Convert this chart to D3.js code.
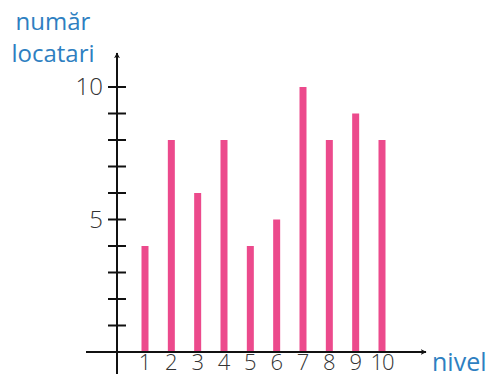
<!DOCTYPE html>
<html lang="ro">
<head>
  <meta charset="UTF-8">
  <title>Număr locatari pe nivel</title>
  <script src="https://d3js.org/d3.v7.min.js"></script>
  <style>
    body { margin: 0; background: #fff; }
    svg { display: block; }
    .lbl { font-family: "Open Sans", sans-serif; font-weight: 300; fill: #333; }
    .title { font-family: "Open Sans", sans-serif; fill: #2e7fc1; }
  </style>
</head>
<body>
  <div id="chart"></div>
  <script>
    // data
    const levels = [1, 2, 3, 4, 5, 6, 7, 8, 9, 10];
    const tenants = [4, 8, 6, 8, 4, 5, 10, 8, 9, 8];
    const yTicks = d3.range(1, 11);
    const yLabels = [5, 10];

    const width = 491, height = 374;
    const originX = 117, originY = 352;

    const svg = d3.select("#chart").append("svg")
      .attr("width", width)
      .attr("height", height);

    const x = d3.scaleLinear().domain([1, 10]).range([145, 382]);
    const y = d3.scaleLinear().domain([0, 10]).range([originY, 87]);

    // bars
    svg.selectAll(".bar")
      .data(levels)
      .enter().append("rect")
      .attr("class", "bar")
      .attr("x", d => x(d) - 3.5)
      .attr("width", 7)
      .attr("y", (d, i) => y(tenants[i]))
      .attr("height", (d, i) => originY - y(tenants[i]))
      .attr("fill", "#ec4a8c");

    // arrow marker
    svg.append("defs").append("marker")
      .attr("id", "arrow")
      .attr("viewBox", "0 0 10 10")
      .attr("refX", 9).attr("refY", 5)
      .attr("markerWidth", 6).attr("markerHeight", 6)
      .attr("markerUnits", "userSpaceOnUse")
      .attr("orient", "auto")
      .append("path")
      .attr("d", "M0,0 L10,5 L0,10 L3,5 Z")
      .attr("fill", "#111");

    // x axis
    svg.append("line")
      .attr("x1", 86).attr("x2", 426)
      .attr("y1", originY).attr("y2", originY)
      .attr("stroke", "#111").attr("stroke-width", 2)
      .attr("marker-end", "url(#arrow)");

    // y axis
    svg.append("line")
      .attr("x1", originX).attr("x2", originX)
      .attr("y1", height).attr("y2", 53)
      .attr("stroke", "#111").attr("stroke-width", 2)
      .attr("marker-end", "url(#arrow)");

    // y ticks
    svg.selectAll(".ytick")
      .data(yTicks)
      .enter().append("line")
      .attr("x1", originX - 9).attr("x2", originX + 9)
      .attr("y1", d => y(d)).attr("y2", d => y(d))
      .attr("stroke", "#111").attr("stroke-width", 2);

    svg.selectAll(".ylab")
      .data(yLabels)
      .enter().append("text")
      .attr("class", "lbl")
      .attr("x", 103)
      .attr("y", d => y(d) + 8)
      .attr("text-anchor", "end")
      .attr("font-size", 24)
      .text(d => d);

    // x labels
    svg.selectAll(".xlab")
      .data(levels)
      .enter().append("text")
      .attr("class", "lbl")
      .attr("x", d => x(d))
      .attr("y", 370)
      .attr("text-anchor", "middle")
      .attr("font-size", 22)
      .attr("letter-spacing", d => d === 10 ? -1 : 0)
      .text(d => d);

    // axis titles
    const yTitle = svg.append("text")
      .attr("class", "title")
      .attr("text-anchor", "middle")
      .attr("font-size", 24);
    yTitle.append("tspan").attr("x", 53).attr("y", 30).text("număr");
    yTitle.append("tspan").attr("x", 53).attr("y", 62).text("locatari");

    svg.append("text")
      .attr("class", "title")
      .attr("x", 432)
      .attr("y", 371)
      .attr("font-size", 25)
      .text("nivel");
  </script>
</body>
</html>
